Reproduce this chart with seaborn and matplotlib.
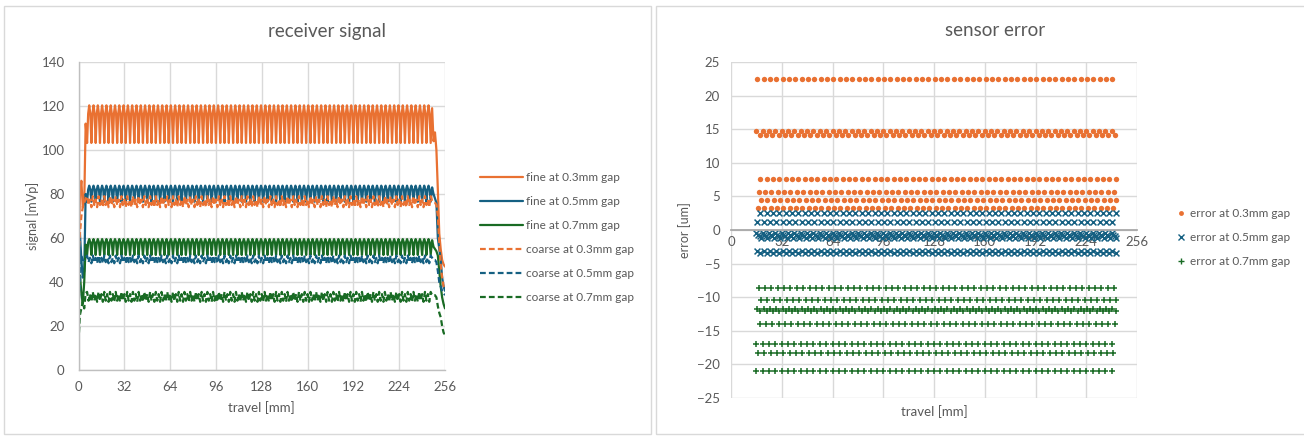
import numpy as np
import pandas as pd
import matplotlib.pyplot as plt
import seaborn as sns
from matplotlib.patches import Rectangle
from matplotlib.lines import Line2D

# office-ish colours
ORANGE = "#E97132"
BLUE = "#156082"
GREEN = "#196B24"
GRID = "#D9D9D9"
TXT = "#595959"

# ---------------- receiver signal (travel mm -> mVp) ----------------
lead_x = [0, 1, 2, 3, 4, 5]
tail_x = [247, 248, 249, 250, 251, 252, 253, 254, 255, 256]
fine_step = 0.75    # 4 samples per 3 mm period of the fine track
coarse_step = 1.0

fine03_lead = [48, 80, 86, 74, 76, 112]
fine03_levels = [103.2, 116.5, 120.3, 116.5]
fine03_tail = [119, 104, 108, 100, 82, 62, 55, 50, 48, 47]

fine05_lead = [36, 62, 50, 42, 45, 80]
fine05_levels = [76.5, 82.0, 83.8, 82.0]
fine05_tail = [83, 80, 78, 76, 60, 55, 50, 42, 38, 36]

fine07_lead = [40, 43, 35, 30, 40, 57]
fine07_levels = [52.3, 58.0, 59.5, 58.0]
fine07_tail = [59, 56, 55, 54, 52, 45, 38, 33, 30, 28]

coarse03_lead = [52, 62, 70, 74, 76, 78]
coarse03_levels = [79, 75, 77.5, 74]
coarse03_tail = [77, 76, 76, 75, 70, 58, 48, 42, 38, 37]

coarse05_lead = [28, 40, 52, 50, 50, 51]
coarse05_levels = [52, 49, 51, 48.5]
coarse05_tail = [51, 50, 50, 49, 45, 40, 38, 36, 35, 34]

coarse07_lead = [13, 25, 28, 31, 28, 35]
coarse07_levels = [35.5, 31.5, 34.5, 31]
coarse07_tail = [34, 34, 34, 33, 29, 26, 24, 20, 17, 16]

signal_labels = ["fine at 0.3mm gap", "fine at 0.5mm gap", "fine at 0.7mm gap",
                 "coarse at 0.3mm gap", "coarse at 0.5mm gap", "coarse at 0.7mm gap"]

# ---------------- sensor error (um) ----------------
err_grid = np.arange(16, 241, 4)   # one phase of the error pattern every 4 mm
err03_levels = [22.5, 14.8, 14.2, 7.6, 5.7, 4.5, 3.3]
err03_shift = [0.5, 0.0, 2.0, 2.5, 1.5, 3.0, 1.0]
err05_levels = [2.6, 1.15, -0.45, -0.7, -0.95, -1.15, -3.1, -3.4]
err05_shift = [2.5, 0.5, 0.0, 1.0, 2.0, 3.0, 0.5, 2.5]
err07_levels = [-8.7, -10.4, -11.8, -12.1, -14.0, -16.9, -18.3, -21.0]
err07_shift = [1.5, 3.0, 0.5, 2.5, 2.0, 0.0, 1.0, 0.0]
error_labels = ["error at 0.3mm gap", "error at 0.5mm gap", "error at 0.7mm gap"]


def build_signal(lead, levels, tail, step):
    xs = np.arange(6, 246.01, step)
    ys = [levels[i % len(levels)] for i in range(len(xs))]
    return pd.DataFrame({"travel": list(lead_x) + list(xs) + list(tail_x),
                         "signal": list(lead) + ys + list(tail)})


def build_error(levels, shifts):
    frames = []
    for lv, sh in zip(levels, shifts):
        frames.append(pd.DataFrame({"travel": err_grid + sh, "error": lv}))
    return pd.concat(frames, ignore_index=True)


DASH = (0, (2.6, 1.4))
signal_series = [
    (build_signal(fine03_lead, fine03_levels, fine03_tail, fine_step), ORANGE, "-"),
    (build_signal(fine05_lead, fine05_levels, fine05_tail, fine_step), BLUE, "-"),
    (build_signal(fine07_lead, fine07_levels, fine07_tail, fine_step), GREEN, "-"),
    (build_signal(coarse03_lead, coarse03_levels, coarse03_tail, coarse_step), ORANGE, DASH),
    (build_signal(coarse05_lead, coarse05_levels, coarse05_tail, coarse_step), BLUE, DASH),
    (build_signal(coarse07_lead, coarse07_levels, coarse07_tail, coarse_step), GREEN, DASH),
]

error_series = [
    (build_error(err03_levels, err03_shift), ORANGE, "o", 15),
    (build_error(err05_levels, err05_shift), BLUE, "x", 18),
    (build_error(err07_levels, err07_shift), GREEN, "+", 20),
]

sns.set_theme(style="white")
plt.rcParams["font.family"] = ["Lato", "DejaVu Sans"]

W, H = 1304, 436
fig = plt.figure(figsize=(W / 100, H / 100), dpi=100)


def px_rect(x0, y0, x1, y1):
    return [x0 / W, 1 - y1 / H, (x1 - x0) / W, (y1 - y0) / H]


# chart area borders
for r in [(4, 6, 651, 434), (656, 6, 1310, 434)]:
    b = px_rect(*r)
    fig.add_artist(Rectangle((b[0], b[1]), b[2], b[3], transform=fig.transFigure,
                             fill=False, ec=GRID, lw=1))

# ---------------- left chart ----------------
ax1 = fig.add_axes(px_rect(78.5, 62, 445, 370))
handles = []
for (df, col, ls), lab in zip(signal_series, signal_labels):
    sns.lineplot(data=df, x="travel", y="signal", ax=ax1, color=col, linestyle=ls,
                 linewidth=1.6, estimator=None, sort=False)
    handles.append(Line2D([], [], color=col, linestyle=ls, linewidth=1.6, label=lab))

ax1.set_xlim(0, 256)
ax1.set_ylim(0, 140)
ax1.set_xticks(np.arange(0, 257, 32))
ax1.set_yticks(np.arange(0, 141, 20))
ax1.grid(True, color=GRID, lw=1)
ax1.set_axisbelow(True)
for s in ["top", "right"]:
    ax1.spines[s].set_visible(False)
for s in ["left", "bottom"]:
    ax1.spines[s].set_color("#BFBFBF")
    ax1.spines[s].set_linewidth(1)
ax1.tick_params(axis="y", length=4, color="#BFBFBF", labelsize=9.5, labelcolor=TXT, pad=6)
ax1.tick_params(axis="x", length=0, labelsize=9.5, labelcolor=TXT, pad=8)
ax1.set_xlabel("travel [mm]", fontsize=9.5, color=TXT, labelpad=6)
ax1.set_ylabel("signal [mVp]", fontsize=9, color=TXT, labelpad=2)
fig.text(327 / W, 1 - 31 / H, "receiver signal", fontsize=13.5, color=TXT,
         ha="center", va="center")

fig.legend(handles=handles, loc="upper left", bbox_to_anchor=(480 / W, 1 - 172 / H),
           frameon=False, fontsize=8.5, labelcolor=TXT, handlelength=3.6,
           handletextpad=0.3, labelspacing=1.1, borderpad=0, borderaxespad=0)

# ---------------- right chart ----------------
ax2 = fig.add_axes(px_rect(731, 62, 1137, 398))
for (df, col, mk, sz), lab in zip(error_series, error_labels):
    if mk == "o":
        sns.scatterplot(data=df, x="travel", y="error", ax=ax2, color=col, marker=mk,
                        s=sz, linewidth=0, label=lab, legend=False)
    else:
        sns.scatterplot(data=df, x="travel", y="error", ax=ax2, color=col, marker=mk,
                        s=sz, linewidth=1.1, label=lab, legend=False)

ax2.set_xlim(0, 256)
ax2.set_ylim(-25, 25)
ax2.set_xticks(np.arange(0, 257, 32))
ax2.set_yticks(np.arange(-25, 26, 5))
ax2.grid(True, color=GRID, lw=1)
ax2.set_axisbelow(True)
for s in ["top", "right", "left"]:
    ax2.spines[s].set_visible(False)
ax2.spines["bottom"].set_position(("data", 0))
ax2.spines["bottom"].set_color("#A6A6A6")
ax2.tick_params(axis="both", length=0, labelsize=9.5, labelcolor=TXT)
ax2.tick_params(axis="x", pad=4)
ax2.tick_params(axis="y", pad=8)
ax2.set_xlabel("travel [mm]", fontsize=9.5, color=TXT)
ax2.xaxis.set_label_coords(0.5, -0.02)
ax2.set_ylabel("error [um]", fontsize=9, color=TXT, labelpad=4)
fig.text(995 / W, 1 - 31 / H, "sensor error", fontsize=13.5, color=TXT,
         ha="center", va="center")

err_handles = [
    Line2D([], [], color=ORANGE, marker="o", markersize=3.5, linestyle="none", markeredgewidth=0),
    Line2D([], [], color=BLUE, marker="x", markersize=4, linestyle="none", markeredgewidth=1),
    Line2D([], [], color=GREEN, marker="+", markersize=4.5, linestyle="none", markeredgewidth=1),
]
fig.legend(handles=err_handles, labels=error_labels, loc="upper left",
           bbox_to_anchor=(1176 / W, 1 - 208 / H), frameon=False, fontsize=8.5,
           labelcolor=TXT, handlelength=0.8, handletextpad=0.4, labelspacing=1.1,
           borderpad=0, borderaxespad=0)

fig.savefig("out.png", dpi=100)
